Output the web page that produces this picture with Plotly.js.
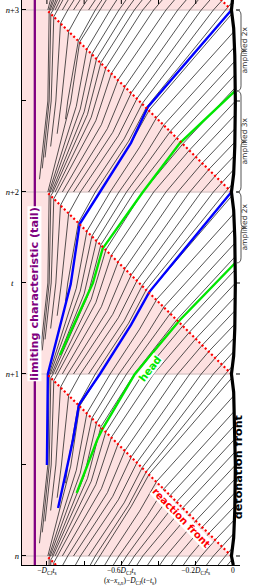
<!DOCTYPE html>
<html><head><meta charset="utf-8">
<script src="https://cdn.plot.ly/plotly-3.0.1.min.js"></script>
<style>html,body{margin:0;padding:0;background:#fff}</style>
</head><body><div id="chart" style="width:256px;height:588px"></div>
<script>
// ---------------- data ----------------
// period offsets (t = n + k)
const periods = [-1, 0, 1, 2, 3];
// characteristic template for one period, local coords: x, tau (tau = t - k)
const charX = [
  [-0.04,-0.029,-0.022,0.0],[-0.105,-0.076,-0.057,0.004],[-0.17,-0.123,-0.092,0.007],
  [-0.232,-0.169,-0.127,0.009],[-0.297,-0.216,-0.162,0.011],[-0.36,-0.262,-0.197,0.012],
  [-0.426,-0.31,-0.232,0.013],[-0.485,-0.354,-0.267,0.013],[-0.53,-0.392,-0.30,0.012],
  [-0.572,-0.43,-0.335,0.011],[-0.613,-0.46,-0.37,0.008],[-0.66,-0.502,-0.41,0.004],
  [-0.715,-0.548,-0.45,-0.005],
  [-0.74,-0.561,-0.465,-0.04],[-0.776,-0.585,-0.487,-0.105],[-0.82,-0.616,-0.515,-0.17],
  [-0.857,-0.646,-0.546,-0.232],[-0.888,-0.675,-0.58,-0.297],[-0.917,-0.707,-0.617,-0.36],
  [-0.943,-0.737,-0.653,-0.426],[-0.956,-0.762,-0.683,-0.485],[-0.967,-0.782,-0.71,-0.53],
  [-0.974,-0.80,-0.733,-0.572],[-0.982,-0.821,-0.758,-0.613],[-0.988,-0.842,-0.785,-0.66],
  [-0.995,-0.872,-0.824,-0.715],
  [-0.90,-0.888,-0.831,-0.74],[-0.945,-0.922,-0.883,-0.82],[-0.98,-0.952,-0.927,-0.888],
  [-1.01,-0.977,-0.963,-0.943],[-1.025,-0.988,-0.979,-0.967],[-1.04,-0.995,-0.988,-0.982]
];
const charTau = [
  [0,0.013,0.022,0.047],[0,0.034,0.057,0.123],[0,0.055,0.092,0.198],
  [0,0.076,0.127,0.273],[0,0.097,0.162,0.348],[0,0.118,0.197,0.424],
  [0,0.139,0.232,0.499],[0,0.16,0.267,0.574],[0,0.18,0.30,0.645],
  [0,0.201,0.335,0.72],[0,0.222,0.37,0.796],[0,0.246,0.41,0.88],
  [0,0.27,0.45,0.98],
  [0,0.279,0.465,1],[0,0.292,0.487,1],[0,0.309,0.515,1],
  [0,0.328,0.546,1],[0,0.348,0.58,1],[0,0.37,0.617,1],
  [0,0.392,0.653,1],[0,0.41,0.683,1],[0,0.426,0.71,1],
  [0,0.44,0.733,1],[0,0.455,0.758,1],[0,0.471,0.785,1],
  [0,0.494,0.824,1],
  [0.40,0.5,0.831,1],[0.32,0.5,0.883,1],[0.25,0.5,0.927,1],
  [0.19,0.5,0.963,1],[0.13,0.5,0.979,1],[0.07,0.5,0.988,1]
];
// highlighted characteristics (global coords)
const blueAX = [-1.0,-0.995,-0.872,-0.824,-0.715,-0.548,-0.457,-0.008];
const blueAT = [0.5,1.0,1.494,1.824,2.0,2.27,2.467,3.0];
const blueCX = [-0.94,-0.86,-0.828,-0.715,-0.548,-0.45,-0.008];
const blueCT = [0.264,0.637,0.83,1.0,1.27,1.45,2.0];
const greenDX = [-0.84,-0.73,-0.70,-0.527,-0.285,0.012];
const greenDT = [0.346,0.637,0.70,1.0,1.297,1.61];
const greenEX = [-0.93,-0.753,-0.70,-0.484,-0.285,0.012];
const greenET = [1.104,1.5,1.69,2.0,2.269,2.555];
// detonation front
const frontT = [-0.05,0,0.1,0.25,0.5,0.75,0.9,1,1.1,1.25,1.5,1.75,1.9,2,2.1,2.25,2.5,2.75,2.9,3,3.06];
const frontX = [0.002,-0.008,0.004,0.010,0.013,0.010,0.004,-0.008,0.004,0.010,0.013,0.010,0.004,-0.008,0.004,0.010,0.013,0.010,0.004,-0.008,-0.002];
// reaction front endpoints per period (local): from (x=-0.008,tau=0) to (x=-1,tau=1)
const reactX = [-0.008,-1.0];
const reactTau = [0,1];
const tailX = -1.065;
// braces
const braceLo = [2.555, 2.0, 1.61];
const braceHi = [3.0, 2.555, 2.0];
const braceText = ["amplified 2x","amplified 3x","amplified 2x"];
// ticks
const xTickVals = [-1,-0.6,-0.2,0];
const xTickText = ["−<i>D</i><sub>CJ</sub><i>t</i><sub>s</sub>","−0.6<i>D</i><sub>CJ</sub><i>t</i><sub>s</sub>","−0.2<i>D</i><sub>CJ</sub><i>t</i><sub>s</sub>","0"];
const xMinorVals = [-0.8,-0.4];
const xAllVals = [-1,-0.8,-0.6,-0.4,-0.2,0];
const yTickVals = [0,1,2,3];
const yTickText = ["<i>n</i>","<i>n</i>+1","<i>n</i>+2","<i>n</i>+3"];
const yMinorVals = [0.5,1.5,2.5];
const yAllVals = [0,0.5,1,1.5,2,2.5,3];

// ---------------- build ----------------
const XR = [-1.134, 0.038], YR = [-0.0495, 3.0549];
const traces = [];
const pink = '#fde1e1';
const px=[], py=[], gx=[], gy=[];
for (const k of periods) {
  px.push(-1.3,reactX[0],reactX[1],-1.3,null); py.push(k,k,k+1,k+1,null);
  gx.push(-1.3,-0.008,null); gy.push(k,k,null);
}
traces.push({x:px, y:py, mode:'lines', fill:'toself', fillcolor:pink, line:{width:0,color:pink}, hoverinfo:'skip', showlegend:false});
traces.push({x:gx, y:gy, mode:'lines', line:{color:'#dccaca',width:1.6}, hoverinfo:'skip', showlegend:false});
const bx=[], by=[];
for (const k of periods) {
  for (let i=0;i<charX.length;i++){
    for (let j=0;j<charX[i].length;j++){ bx.push(charX[i][j]); by.push(charTau[i][j]+k); }
    bx.push(null); by.push(null);
  }
}
traces.push({x:bx, y:by, mode:'lines', line:{color:'#1a1a1a',width:0.75}, hoverinfo:'skip', showlegend:false});
traces.push({x:[tailX,tailX], y:[YR[0],YR[1]], mode:'lines', line:{color:'#800080',width:2.3}, hoverinfo:'skip', showlegend:false});
traces.push({x:blueAX.concat([null],blueCX), y:blueAT.concat([null],blueCT), mode:'lines', line:{color:'#0000ff',width:2.4}, hoverinfo:'skip', showlegend:false});
traces.push({x:greenDX.concat([null],greenEX), y:greenDT.concat([null],greenET), mode:'lines', line:{color:'#00e600',width:2.4}, hoverinfo:'skip', showlegend:false});
const rx=[], ry=[];
for (const k of periods){ rx.push(reactX[0],reactX[1],null); ry.push(reactTau[0]+k,reactTau[1]+k,null); }
traces.push({x:rx,y:ry,mode:'lines',line:{color:'#ff0000',width:2.2,dash:'2px,2.4px'}, hoverinfo:'skip', showlegend:false});
traces.push({x:frontX,y:frontT,mode:'lines',line:{color:'#000',width:3.2}, hoverinfo:'skip', showlegend:false});

const L=22, W=218, H=565;
const px2paper = p => (p-L)/W;
const shapes = [];
const annotations = [];
// mirrored ticks on top and right
for (const v of xAllVals) shapes.push({type:'line', xref:'x', yref:'paper', x0:v, x1:v, y0:1, y1:1-4/H, line:{color:'#000',width:1}});
for (const v of yAllVals) shapes.push({type:'line', xref:'paper', yref:'y', x0:1, x1:1-4/W, y0:v, y1:v, line:{color:'#000',width:1}});
for (let i=0;i<braceLo.length;i++){
  const a=braceLo[i], b=braceHi[i], m=(a+b)/2, d=0.028;
  const xA=px2paper(236.5), xB=px2paper(241), xT=px2paper(245.5);
  shapes.push({type:'path', xref:'paper', yref:'y', line:{color:'#555',width:1},
    path:`M ${xA},${b} Q ${xB},${b} ${xB},${b-d} L ${xB},${m+d} Q ${xB},${m} ${xT},${m} Q ${xB},${m} ${xB},${m-d} L ${xB},${a+d} Q ${xB},${a} ${xA},${a}`});
  annotations.push({xref:'paper', yref:'y', x:px2paper(250.5), y:m, text:braceText[i], showarrow:false,
    textangle:-90, font:{family:'DejaVu Sans', size:7.5, color:'#333'}});
}
annotations.push({xref:'x', yref:'y', x:tailX, y:1.44, text:'<b>limiting characteristic (tail)</b>', showarrow:false,
  textangle:-90, bgcolor:'#fff', borderpad:0, font:{family:'DejaVu Sans', size:11.2, color:'#800080'}});
annotations.push({xref:'x', yref:'y', x:-0.45, y:1.03, text:'<b>head</b>', showarrow:false,
  textangle:-52, bgcolor:'#fff', borderpad:0, font:{family:'DejaVu Sans', size:10.5, color:'#00e600'}});
annotations.push({xref:'x', yref:'y', x:-0.28, y:0.209, text:'<b>reaction front</b>', showarrow:false,
  textangle:46, bgcolor:'#fff', borderpad:0, font:{family:'DejaVu Sans', size:10, color:'#ff0000'}});
annotations.push({xref:'paper', yref:'y', x:px2paper(247), y:0.49, text:'<b>detonation front</b>', showarrow:false,
  textangle:-90, font:{family:'DejaVu Sans', size:11.2, color:'#000'}});
annotations.push({xref:'paper', yref:'paper', x:px2paper(9), y:0.5, text:'<i>t</i>', showarrow:false,
  font:{family:'Liberation Serif', size:9, color:'#000'}});
annotations.push({xref:'paper', yref:'paper', x:px2paper(130), y:-(588-H)/H, yanchor:'bottom',
  text:'(<i>x</i>−<i>x</i><sub><i>s</i>,<i>n</i></sub>)−<i>D</i><sub>CJ</sub>(<i>t</i>−<i>t</i><sub>s</sub>)', showarrow:false,
  font:{family:'Liberation Serif', size:7.5, color:'#000'}});

const layout = {
  width:256, height:588, margin:{l:22, r:16, t:0, b:23},
  paper_bgcolor:'#fff', plot_bgcolor:'#fff', showlegend:false,
  xaxis:{range:XR, showgrid:false, zeroline:false, showline:true, linecolor:'#000', linewidth:1.2,
    ticks:'inside', ticklen:4, tickcolor:'#000', tickvals:xTickVals, ticktext:xTickText,
    ticklabelstandoff:-2,
    tickfont:{family:'Liberation Serif', size:7.5, color:'#000'},
    minor:{tickvals:xMinorVals, ticks:'inside', ticklen:4, tickcolor:'#000', showgrid:false}},
  yaxis:{range:YR, showgrid:false, zeroline:false, showline:true, linecolor:'#000', linewidth:1.2,
    ticks:'inside', ticklen:4, tickcolor:'#000', tickvals:yTickVals, ticktext:yTickText,
    tickfont:{family:'Liberation Serif', size:8.5, color:'#000'},
    minor:{tickvals:yMinorVals, ticks:'inside', ticklen:4, tickcolor:'#000', showgrid:false}},
  shapes:shapes, annotations:annotations
};
Plotly.newPlot('chart', traces, layout, {staticPlot:true, displayModeBar:false});
</script></body></html>
